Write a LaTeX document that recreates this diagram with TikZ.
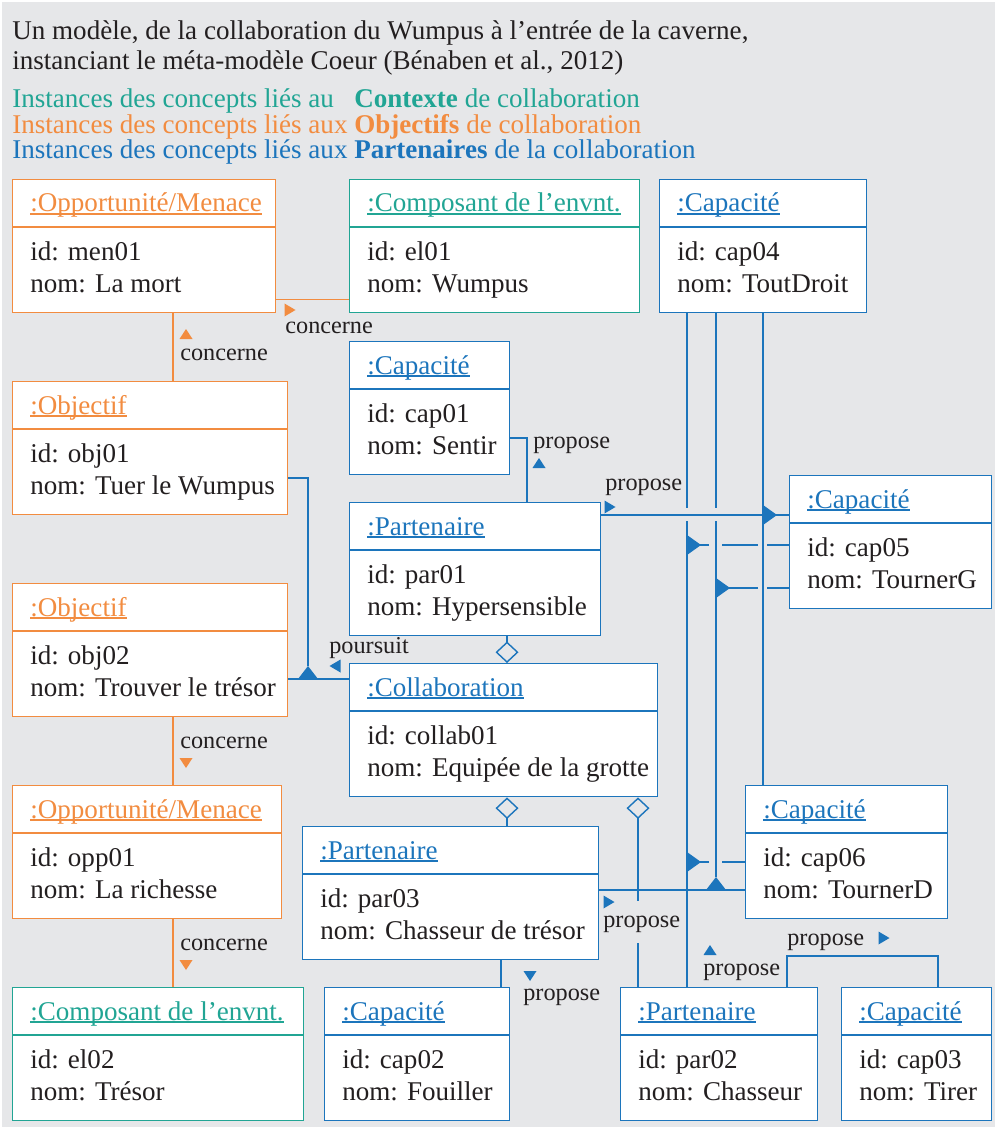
\documentclass[tikz,border=0pt]{standalone}
\usepackage{fontspec}
\setmainfont{Liberation Serif}
\usetikzlibrary{arrows.meta, positioning, calc}

\definecolor{fond}{RGB}{230,231,233}
\definecolor{orangec}{RGB}{242,140,64}
\definecolor{vertc}{RGB}{33,165,148}
\definecolor{bleuc}{RGB}{28,117,188}
\definecolor{noirc}{RGB}{35,31,32}

% souligne a hauteur fixe
\newcommand{\souligne}[1]{\setbox0\hbox{#1}\rlap{\rule[-0.55mm]{\wd0}{0.26mm}}\box0}

% objet UML : nom, x, y, largeur, couleur, titre, id, nom
\newcommand{\objet}[8]{%
  \node[objbox, draw=#5, minimum width=#4*0.2mm] (#1) at (#2,#3) {};
  \draw[#5, line width=0.8pt] ([yshift=-9.6mm]#1.north west) -- ([yshift=-9.6mm]#1.north east);
  \node[txt, text=#5] (#1-titre) at ([xshift=3.6mm,yshift=-6.6mm]#1.north west) {\souligne{#6}};
  \node[txt] (#1-id) at ([xshift=3.6mm,yshift=-16.35mm]#1.north west) {id: #7};
  \node[txt] (#1-nom) at ([xshift=3.6mm,yshift=-22.75mm]#1.north west) {nom: #8};
}

\begin{document}
\begin{tikzpicture}[
    x=0.2mm, y=-0.2mm,
    objbox/.style={draw, fill=white, line width=0.8pt, minimum height=26.6mm, anchor=north west, inner sep=0pt},
    txt/.style={anchor=base west, inner sep=0pt, text=noirc, font=\fontsize{15.4}{18}\selectfont},
    lbl/.style={anchor=base west, inner sep=0pt, text=noirc, font=\fontsize{13.8}{16}\selectfont},
    lien/.style={line width=0.8pt},
    agg/.style={lien, bleuc},
    fd/.pic={\fill (-5.5,-6.5) -- (5.5,0) -- (-5.5,6.5) -- cycle;},
    fg/.pic={\fill (5.5,-6.5) -- (-5.5,0) -- (5.5,6.5) -- cycle;},
    fh/.pic={\fill (-6.5,5) -- (6.5,5) -- (0,-5) -- cycle;},
    fb/.pic={\fill (-6.5,-5) -- (6.5,-5) -- (0,5) -- cycle;},
    gd/.pic={\fill (0,-10) -- (14,0) -- (0,10) -- cycle;},
    gh/.pic={\fill (-10,0) -- (10,0) -- (0,-13) -- cycle;}
]

% Fond
\useasboundingbox (0,0) rectangle (997,1129);
\fill[fond] (2,2) rectangle (995,1127);

% Titre et legende
\node[txt] (titre1) at (12,40) {Un modèle, de la collaboration du Wumpus à l’entrée de la caverne,};
\node[txt] (titre2) at (12,70) {instanciant le méta-modèle Coeur (Bénaben et al., 2012)};
\node[txt, text=vertc] (leg1) at (12,108) {Instances des concepts liés au\phantom{x} \textbf{Contexte} de collaboration};
\node[txt, text=orangec] (leg2) at (12,133.5) {Instances des concepts liés aux \textbf{Objectifs} de collaboration};
\node[txt, text=bleuc] (leg3) at (12,159) {Instances des concepts liés aux \textbf{Partenaires} de la collaboration};

% Objets
\objet{men01}{12}{179}{263}{orangec}{:Opportunité/Menace}{men01}{La mort}
\objet{el01}{349}{179}{290}{vertc}{:Composant de l’envnt.}{el01}{Wumpus}
\objet{cap04}{659}{179}{207}{bleuc}{:Capacité}{cap04}{ToutDroit}
\objet{cap01}{349}{341}{160}{bleuc}{:Capacité}{cap01}{Sentir}
\objet{obj01}{12}{381}{275}{orangec}{:Objectif}{obj01}{Tuer le Wumpus}
\objet{cap05}{789}{475}{202}{bleuc}{:Capacité}{cap05}{TournerG}
\objet{par01}{349}{502}{251}{bleuc}{:Partenaire}{par01}{Hypersensible}
\objet{obj02}{12}{583}{275}{orangec}{:Objectif}{obj02}{Trouver le trésor}
\objet{collab01}{349}{663}{308}{bleuc}{:Collaboration}{collab01}{Equipée de la grotte}
\objet{opp01}{12}{785}{269}{orangec}{:Opportunité/Menace}{opp01}{La richesse}
\objet{cap06}{745}{785}{202}{bleuc}{:Capacité}{cap06}{TournerD}
\objet{par03}{302}{826}{296}{bleuc}{:Partenaire}{par03}{Chasseur de trésor}
\objet{el02}{12}{987}{291}{vertc}{:Composant de l’envnt.}{el02}{Trésor}
\objet{cap02}{324}{987}{185}{bleuc}{:Capacité}{cap02}{Fouiller}
\objet{par02}{620}{987}{197}{bleuc}{:Partenaire}{par02}{Chasseur}
\objet{cap03}{841}{987}{150}{bleuc}{:Capacité}{cap03}{Tirer}

% Liens concerne
\draw[lien, orangec] ([yshift=2.8mm]men01.south east) -- ([yshift=2.8mm]el01.south west);
\pic[color=orangec] at (290,310) {fd};
\node[lbl] (c1) at (285,333) {concerne};
\draw[lien, orangec] (obj01.north -| 173,0) -- (men01.south -| 173,0);
\pic[color=orangec] at (186,334) {fh};
\node[lbl] (c2) at (180,360) {concerne};
\draw[lien, orangec] (obj02.south -| 173,0) -- (opp01.north -| 173,0);
\node[lbl] (c3) at (180,748) {concerne};
\pic[color=orangec] at (186,763) {fb};
\draw[lien, orangec] (opp01.south -| 173,0) -- (el02.north -| 173,0);
\node[lbl] (c4) at (180,950) {concerne};
\pic[color=orangec] at (186,965) {fb};

% Liens propose
\draw[lien, bleuc] (cap01.east |- 0,438) -| (par01.north -| 527,0);
\node[lbl] (p1) at (533,448) {propose};
\pic[color=bleuc] at (539,463) {fh};

\draw[lien, bleuc] (par01.east |- 0,515) -- (cap05.west |- 0,515);
\node[lbl] (p2) at (605,490) {propose};
\pic[color=bleuc] at (610,507) {fd};

\draw[lien, bleuc] (cap04.south -| 687,0) -- (687,508) (687,521) -- (par02.north -| 687,0);
\draw[lien, bleuc] (cap04.south -| 716,0) -- (716,508) (716,521) -- (716,877);
\draw[lien, bleuc] (cap04.south -| 763,0) -- (cap06.north -| 763,0);
\pic[color=bleuc] at (763,515) {gd};

\draw[lien, bleuc] (cap05.west |- 0,545) -- (767,545) (758,545) -- (722,545) (709,545) -- (687,545);
\pic[color=bleuc] at (687,545) {gd};
\draw[lien, bleuc] (cap05.west |- 0,588) -- (767,588) (758,588) -- (716,588);
\pic[color=bleuc] at (716,588) {gd};

\draw[lien, bleuc] (cap06.west |- 0,862) -- (722,862) (709,862) -- (687,862);
\pic[color=bleuc] at (687,862) {gd};

\draw[lien, bleuc] (par03.east |- 0,890) -- (cap06.west |- 0,890);
\pic[color=bleuc] at (716,890) {gh};
\pic[color=bleuc] at (609,902) {fd};
\node[lbl] (p3) at (603,927) {propose};

\draw[lien, bleuc] (par03.south -| 501,0) -- (cap02.north -| 501,0);
\pic[color=bleuc] at (530,976) {fb};
\node[lbl] (p4) at (523,1000) {propose};

\draw[lien, bleuc] (par02.north -| 787,0) |- (938,956) -- (cap03.north -| 938,0);
\node[lbl] (p5) at (787,945) {propose};
\pic[color=bleuc] at (884,938) {fd};
\pic[color=bleuc] at (710,950) {fh};
\node[lbl] (p6) at (703,975) {propose};

% Agregations
\draw[agg, -{Diamond[open, length=4.3mm, width=4.6mm]}] (par01.south -| 507,0) -- (collab01.north -| 507,0);
\draw[agg, {Diamond[open, length=4.3mm, width=4.6mm]}-] (collab01.south -| 507,0) -- (par03.north -| 507,0);
\draw[agg, {Diamond[open, length=4.3mm, width=4.6mm]}-] (collab01.south -| 638,0) -- (638,901);
\draw[agg] (638,943) -- (par02.north -| 638,0);

% Lien poursuit
\draw[lien, bleuc] (collab01.west |- 0,679) -- (obj02.east |- 0,679);
\draw[lien, bleuc] (obj01.east |- 0,478) -| (308,666);
\pic[color=bleuc] at (308,679) {gh};
\node[lbl] (p7) at (329,653) {poursuit};
\pic[color=bleuc] at (335,666) {fg};

\end{tikzpicture}
\end{document}
